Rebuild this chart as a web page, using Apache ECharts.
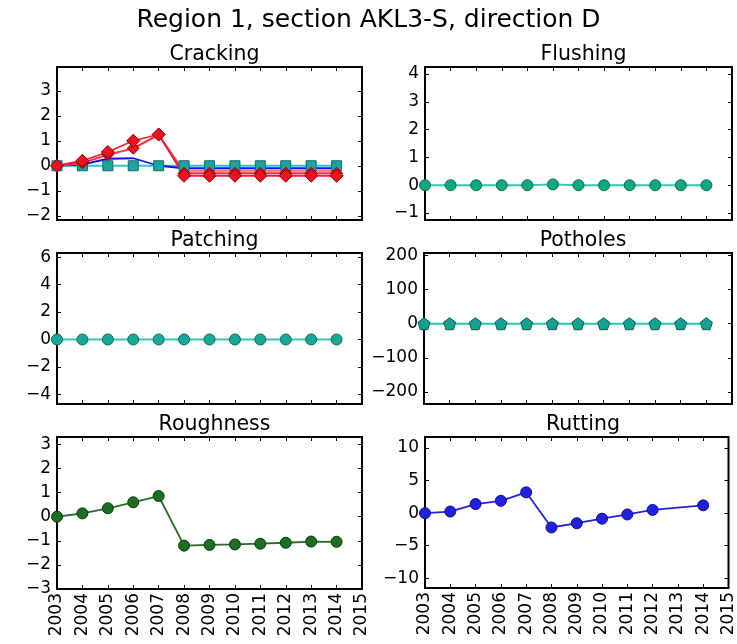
<!DOCTYPE html>
<html><head><meta charset="utf-8">
<script src="https://cdn.jsdelivr.net/npm/echarts@6/dist/echarts.min.js"></script>
<style>html,body{margin:0;padding:0;background:#fff}#c{width:737px;height:644px}</style>
</head><body><div id="c"></div>
<script>
const years = [2003,2004,2005,2006,2007,2008,2009,2010,2011,2012,2013,2014];
const yearsRutting = [2003,2004,2005,2006,2007,2008,2009,2010,2011,2012,2014];
const xTickLabels = [2003,2004,2005,2006,2007,2008,2009,2010,2011,2012,2013,2014,2015];

const crackingRedA = [0,0.2,0.55,1.0,1.25,-0.4,-0.4,-0.4,-0.4,-0.4,-0.4,-0.4];
const crackingRedB = [0,0.12,0.45,0.7,1.25,-0.3,-0.3,-0.3,-0.3,-0.3,-0.3,-0.3];
const crackingRedC = [0,0.1,0.42,0.68,1.22,-0.2,-0.2,-0.2,-0.2,-0.2,-0.2,-0.2];
const crackingBlue = [0,0.05,0.28,0.3,0.0,-0.1,-0.1,-0.1,-0.1,-0.1,-0.1,-0.1];
const crackingCyan = [0,0,0,0,0,0,0,0,0,0,0,0];
const flushing = [0,0,0,0,0,0.03,0,0,0,0,0,0];
const patching = [0,0,0,0,0,0,0,0,0,0,0,0];
const potholes = [0,0,0,0,0,0,0,0,0,0,0,0];
const roughness = [0,0.14,0.35,0.6,0.86,-1.2,-1.17,-1.15,-1.12,-1.08,-1.03,-1.04];
const rutting = [0,0.25,1.4,1.9,3.2,-2.2,-1.55,-0.85,-0.2,0.5,1.2];

const crackingTicks = [-2,-1,0,1,2,3];
const flushingTicks = [-1,0,1,2,3,4];
const patchingTicks = [-4,-2,0,2,4,6];
const potholesTicks = [-200,-100,0,100,200];
const roughnessTicks = [-3,-2,-1,0,1,2,3];
const ruttingTicks = [-10,-5,0,5,10];

const FONT = 'DejaVu Sans';
const panels = [
  {title:'Cracking', left:57, top:67, width:305, height:153, min:-2.17, max:3.95, ticks:crackingTicks, labels:false},
  {title:'Flushing', left:425, top:67, width:307, height:153, min:-1.25, max:4.25, ticks:flushingTicks, labels:false},
  {title:'Patching', left:57, top:253, width:305, height:151, min:-4.7, max:6.3, ticks:patchingTicks, labels:false},
  {title:'Potholes', left:424, top:253, width:308, height:151, min:-235, max:207, ticks:potholesTicks, labels:false},
  {title:'Roughness', left:57, top:437, width:305, height:152, min:-3, max:3.31, ticks:roughnessTicks, labels:true},
  {title:'Rutting', left:425, top:437, width:306, height:151, min:-11.5, max:11.7, ticks:ruttingTicks, labels:true}
];

const grid = [], xAxis = [], yAxis = [], title = [], series = [];
title.push({text:'Region 1, section AKL3-S, direction D', left:'center', top:3,
  textStyle:{fontFamily:FONT, fontSize:25, fontWeight:'normal', color:'#000'}});
panels.forEach((p,i)=>{
  grid.push({left:p.left, top:p.top, width:p.width, height:p.height, show:true,
    borderColor:'#000', borderWidth:2, backgroundColor:'#fff'});
  title.push({text:p.title, left:p.left + p.width/2, top:p.top - 28, textAlign:'center',
    textStyle:{fontFamily:FONT, fontSize:20.5, fontWeight:'normal', color:'#000'}});
  const xb = {type:'value', gridIndex:i, min:2003, max:2015, interval:1, position:'bottom',
    axisLine:{show:false, onZero:false}, splitLine:{show:false},
    axisTick:{inside:true, length:4, lineStyle:{color:'#000'}},
    axisLabel:{show:p.labels, rotate:90, fontFamily:FONT, fontSize:17, color:'#000', margin:4,
      customValues:xTickLabels, formatter:v=>String(v)}};
  const xt = {type:'value', gridIndex:i, min:2003, max:2015, interval:1, position:'top',
    axisLine:{show:false, onZero:false}, splitLine:{show:false},
    axisTick:{inside:true, length:4, lineStyle:{color:'#000'}}, axisLabel:{show:false}};
  xAxis.push(xb, xt);
  const yl = {type:'value', gridIndex:i, min:p.min, max:p.max, position:'left',
    axisLine:{show:false, onZero:false}, splitLine:{show:false},
    axisTick:{inside:true, length:4, customValues:p.ticks, lineStyle:{color:'#000'}},
    axisLabel:{fontFamily:FONT, fontSize:17, color:'#000', margin:6, customValues:p.ticks,
      formatter:v=>String(v).replace('-','\u2212')}};
  const yr = {type:'value', gridIndex:i, min:p.min, max:p.max, position:'right',
    axisLine:{show:false, onZero:false}, splitLine:{show:false},
    axisTick:{inside:true, length:4, customValues:p.ticks, lineStyle:{color:'#000'}},
    axisLabel:{show:false}};
  yAxis.push(yl, yr);
});

function pairs(xs, ys){ return xs.map((x,k)=>[x, ys[k]]); }
function addLine(panel, xs, ys, color, symbol, symbolSize, fill, edge, lw){
  series.push({type:'line', xAxisIndex:panel*2, yAxisIndex:panel*2, data:pairs(xs,ys),
    symbol:symbol, symbolSize:symbolSize, showSymbol:symbol!=='none', clip:false, animation:false,
    lineStyle:{color:color, width:lw||1.8},
    itemStyle:{color:fill, borderColor:edge, borderWidth:1}});
}
const pentagon = 'path://M0,-10 L9.5,-3.1 L5.9,8.1 L-5.9,8.1 L-9.5,-3.1 Z';

// Cracking
addLine(0, years, crackingCyan, '#2ec8c0', 'rect', 10, '#1fa3a0', '#106a6a', 1.8);
addLine(0, years, crackingBlue, '#1010ff', 'none', 0, '#1010ff', '#1010ff', 1.8);
addLine(0, years, crackingRedC, '#f07080', 'none', 0, '#ff2020', '#a00000', 1.8);
addLine(0, years, crackingRedB, '#f03040', 'diamond', 12, '#ee1122', '#900000', 1.8);
addLine(0, years, crackingRedA, '#ee2030', 'diamond', 13, '#ee1122', '#900000', 1.8);
// Flushing
addLine(1, years, flushing, '#30c8b0', 'circle', 11, '#10a880', '#0a6a55', 1.8);
// Patching
addLine(2, years, patching, '#30c8b8', 'circle', 11, '#17a898', '#0b6a60', 1.8);
// Potholes
addLine(3, years, potholes, '#20c8b0', pentagon, 12, '#15a090', '#0a5a50', 2);
// Roughness
addLine(4, years, roughness, '#2a6a2a', 'circle', 11, '#1c6e22', '#0a3a0a', 1.8);
// Rutting
addLine(5, yearsRutting, rutting, '#2222dd', 'circle', 11, '#2020e0', '#101080', 1.8);

const chart = echarts.init(document.getElementById('c'), null, {renderer:'canvas'});
chart.setOption({animation:false, backgroundColor:'#fff', title, grid, xAxis, yAxis, series});
</script></body></html>
